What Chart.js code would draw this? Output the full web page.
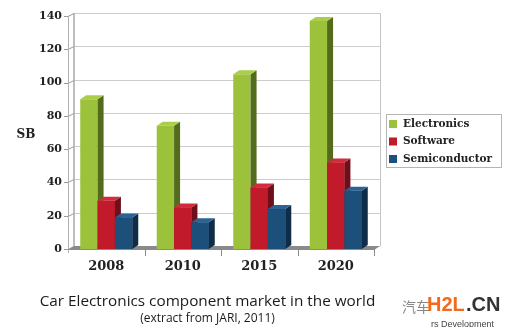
<!doctype html>
<html>
<head>
	<title>Car Electronics component market</title>
	<script src="https://cdn.jsdelivr.net/npm/chart.js@4/dist/chart.umd.min.js"></script>
	<style>
	body { margin: 0; background: #fff; }
	#wrap { position: relative; width: 513px; height: 327px; overflow: hidden; }
	.cap { position: absolute; left: 0; width: 415px; text-align: center; font-family: "Open Sans", sans-serif; color: #1a1a1a; white-space: nowrap; }
	#cap1 { top: 291px; font-size: 15.3px; line-height: 18px; }
	#cap2 { top: 311px; font-size: 12px; line-height: 14px; }
	.wm { position: absolute; white-space: nowrap; }
	</style>
</head>
<body>
	<div id="wrap">
		<canvas id="canvas"></canvas>
		<div class="cap" id="cap1">Car Electronics component market in the world</div>
		<div class="cap" id="cap2">(extract from JARI, 2011)</div>
		<span class="wm" style="left:402px;top:296px;font:14px 'Noto Sans CJK SC';color:#888">汽车</span>
		<span class="wm" style="left:427px;top:293px;font:bold 20px 'Liberation Sans';color:#f26a1b">H2L</span>
		<span class="wm" style="left:466px;top:293px;font:bold 20px 'Liberation Sans';color:#333">.CN</span>
		<span class="wm" style="left:431px;top:319px;font:9px 'Liberation Sans';color:#444">rs Development</span>
	</div>
	<script>
		const years = ['2008', '2010', '2015', '2020'];
		const electronics = [90, 74, 105, 137];
		const software = [29, 25, 37, 52];
		const semiconductor = [19, 16, 24, 35];
		const seriesNames = ['Electronics', 'Software', 'Semiconductor'];

		const fronts = ['#9cc13a', '#c01a2b', '#1d4f7b'];
		const sides = ['#546b1d', '#6e0f1b', '#0f2c48'];
		const tops = ['#aacd4a', '#d22c3c', '#2a6394'];

		const BDX = 6, BDY = 4; // bar depth
		const WDX = 6, WDY = 3; // wall depth
		const serif = "'DejaVu Serif', serif";

		function poly(ctx, pts, fill) {
			ctx.beginPath();
			ctx.moveTo(pts[0][0], pts[0][1]);
			for (let i = 1; i < pts.length; i++) ctx.lineTo(pts[i][0], pts[i][1]);
			ctx.closePath();
			ctx.fillStyle = fill;
			ctx.fill();
		}

		const box3d = {
			id: 'box3d',
			beforeDatasetsDraw(chart) {
				const {ctx, chartArea: a, scales: {y}} = chart;
				ctx.save();
				ctx.lineWidth = 1;
				y.ticks.forEach(t => {
					const py = Math.round(y.getPixelForValue(t.value)) + 0.5;
					ctx.strokeStyle = '#cdcdcd';
					ctx.beginPath();
					ctx.moveTo(a.left + WDX, py - WDY);
					ctx.lineTo(a.right + WDX, py - WDY);
					ctx.stroke();
					ctx.strokeStyle = '#9a9a9a';
					ctx.beginPath();
					ctx.moveTo(a.left - 4, py);
					ctx.lineTo(a.left, py);
					ctx.lineTo(a.left + WDX, py - WDY);
					ctx.stroke();
				});
				// walls
				ctx.strokeStyle = '#a8a8a8';
				ctx.lineWidth = 1.5;
				ctx.beginPath();
				ctx.moveTo(a.left + WDX, a.top - WDY);
				ctx.lineTo(a.left + WDX, a.bottom - WDY);
				ctx.stroke();
				ctx.lineWidth = 1;
				ctx.strokeStyle = '#c4c4c4';
				ctx.beginPath();
				ctx.moveTo(a.right + WDX + 0.5, a.top - WDY);
				ctx.lineTo(a.right + WDX + 0.5, a.bottom - WDY);
				ctx.stroke();
				ctx.strokeStyle = '#b0b0b0';
				ctx.beginPath();
				ctx.moveTo(a.left + 0.5, a.top);
				ctx.lineTo(a.left + 0.5, a.bottom + 4);
				ctx.stroke();
				// floor
				poly(ctx, [[a.left, a.bottom + 1], [a.right, a.bottom + 1], [a.right + WDX, a.bottom - WDY], [a.left + WDX, a.bottom - WDY]], '#8a8a8a');
				// x tick marks between categories
				ctx.strokeStyle = '#8a8a8a';
				const step = (a.right - a.left) / years.length;
				for (let i = 1; i <= years.length; i++) {
					const px = Math.round(a.left + step * i) + 0.5;
					ctx.beginPath();
					ctx.moveTo(px, a.bottom);
					ctx.lineTo(px, a.bottom + 7);
					ctx.stroke();
				}
				ctx.restore();
			},
			afterDatasetsDraw(chart) {
				// faces drawn series by series, so the next series' front hides the side behind it
				const ctx = chart.ctx;
				const n = chart.data.datasets.length;
				ctx.save();
				for (let i = 0; i < n; i++) {
					const meta = chart.getDatasetMeta(i);
					if (i > 0) meta.data.forEach(bar => bar.draw(ctx));
					meta.data.forEach(bar => {
						const {x, y, base, width} = bar.getProps(['x', 'y', 'base', 'width'], true);
						const l = x - width / 2, r = x + width / 2;
						poly(ctx, [[r, y], [r + BDX, y - BDY], [r + BDX, base - BDY], [r, base]], sides[i]);
						poly(ctx, [[l, y], [r, y], [r + BDX, y - BDY], [l + BDX, y - BDY]], tops[i]);
					});
				}
				ctx.restore();
			},
			afterDraw(chart) {
				const ctx = chart.ctx;
				ctx.save();
				// y axis title
				ctx.fillStyle = '#222';
				ctx.font = 'bold 12px ' + serif;
				ctx.textAlign = 'center';
				ctx.textBaseline = 'middle';
				ctx.fillText('SB', 26, 135);
				// legend
				ctx.strokeStyle = '#b5b5b5';
				ctx.lineWidth = 1;
				ctx.strokeRect(386.5, 114.5, 115, 53);
				ctx.textAlign = 'left';
				ctx.font = 'bold 10.5px ' + serif;
				chart.data.datasets.forEach((ds, i) => {
					const ly = 124 + i * 17.5;
					ctx.fillStyle = fronts[i];
					ctx.fillRect(389, ly - 4, 8, 8);
					ctx.fillStyle = '#222';
					ctx.fillText(ds.label, 403, ly);
				});
				ctx.restore();
			}
		};

		const ctx = document.getElementById('canvas').getContext('2d');
		new Chart(ctx, {
			type: 'bar',
			data: {
				labels: years,
				datasets: [electronics, software, semiconductor].map((d, i) => ({
					label: seriesNames[i],
					data: d,
					backgroundColor: fronts[i],
					borderWidth: 0
				}))
			},
			options: {
				responsive: true,
				maintainAspectRatio: false,
				animation: false,
				layout: { padding: { left: 28, right: 139, top: 16, bottom: 48 } },
				datasets: { bar: { categoryPercentage: 0.68, barPercentage: 1 } },
				plugins: {
					legend: { display: false },
					tooltip: { enabled: false }
				},
				scales: {
					x: {
						grid: { display: false, drawTicks: false },
						border: { display: false },
						ticks: { color: '#222', font: { family: serif, weight: 'bold', size: 13 }, padding: 10 },
						afterFit(s) { s.height = 30; }
					},
					y: {
						min: 0,
						max: 140,
						grid: { display: false, drawTicks: false },
						border: { display: false },
						ticks: { stepSize: 20, color: '#222', font: { family: serif, weight: 'bold', size: 11 }, padding: 6 },
						afterFit(s) { s.width = 40; }
					}
				}
			},
			plugins: [box3d]
		});
	</script>
</body>
</html>
